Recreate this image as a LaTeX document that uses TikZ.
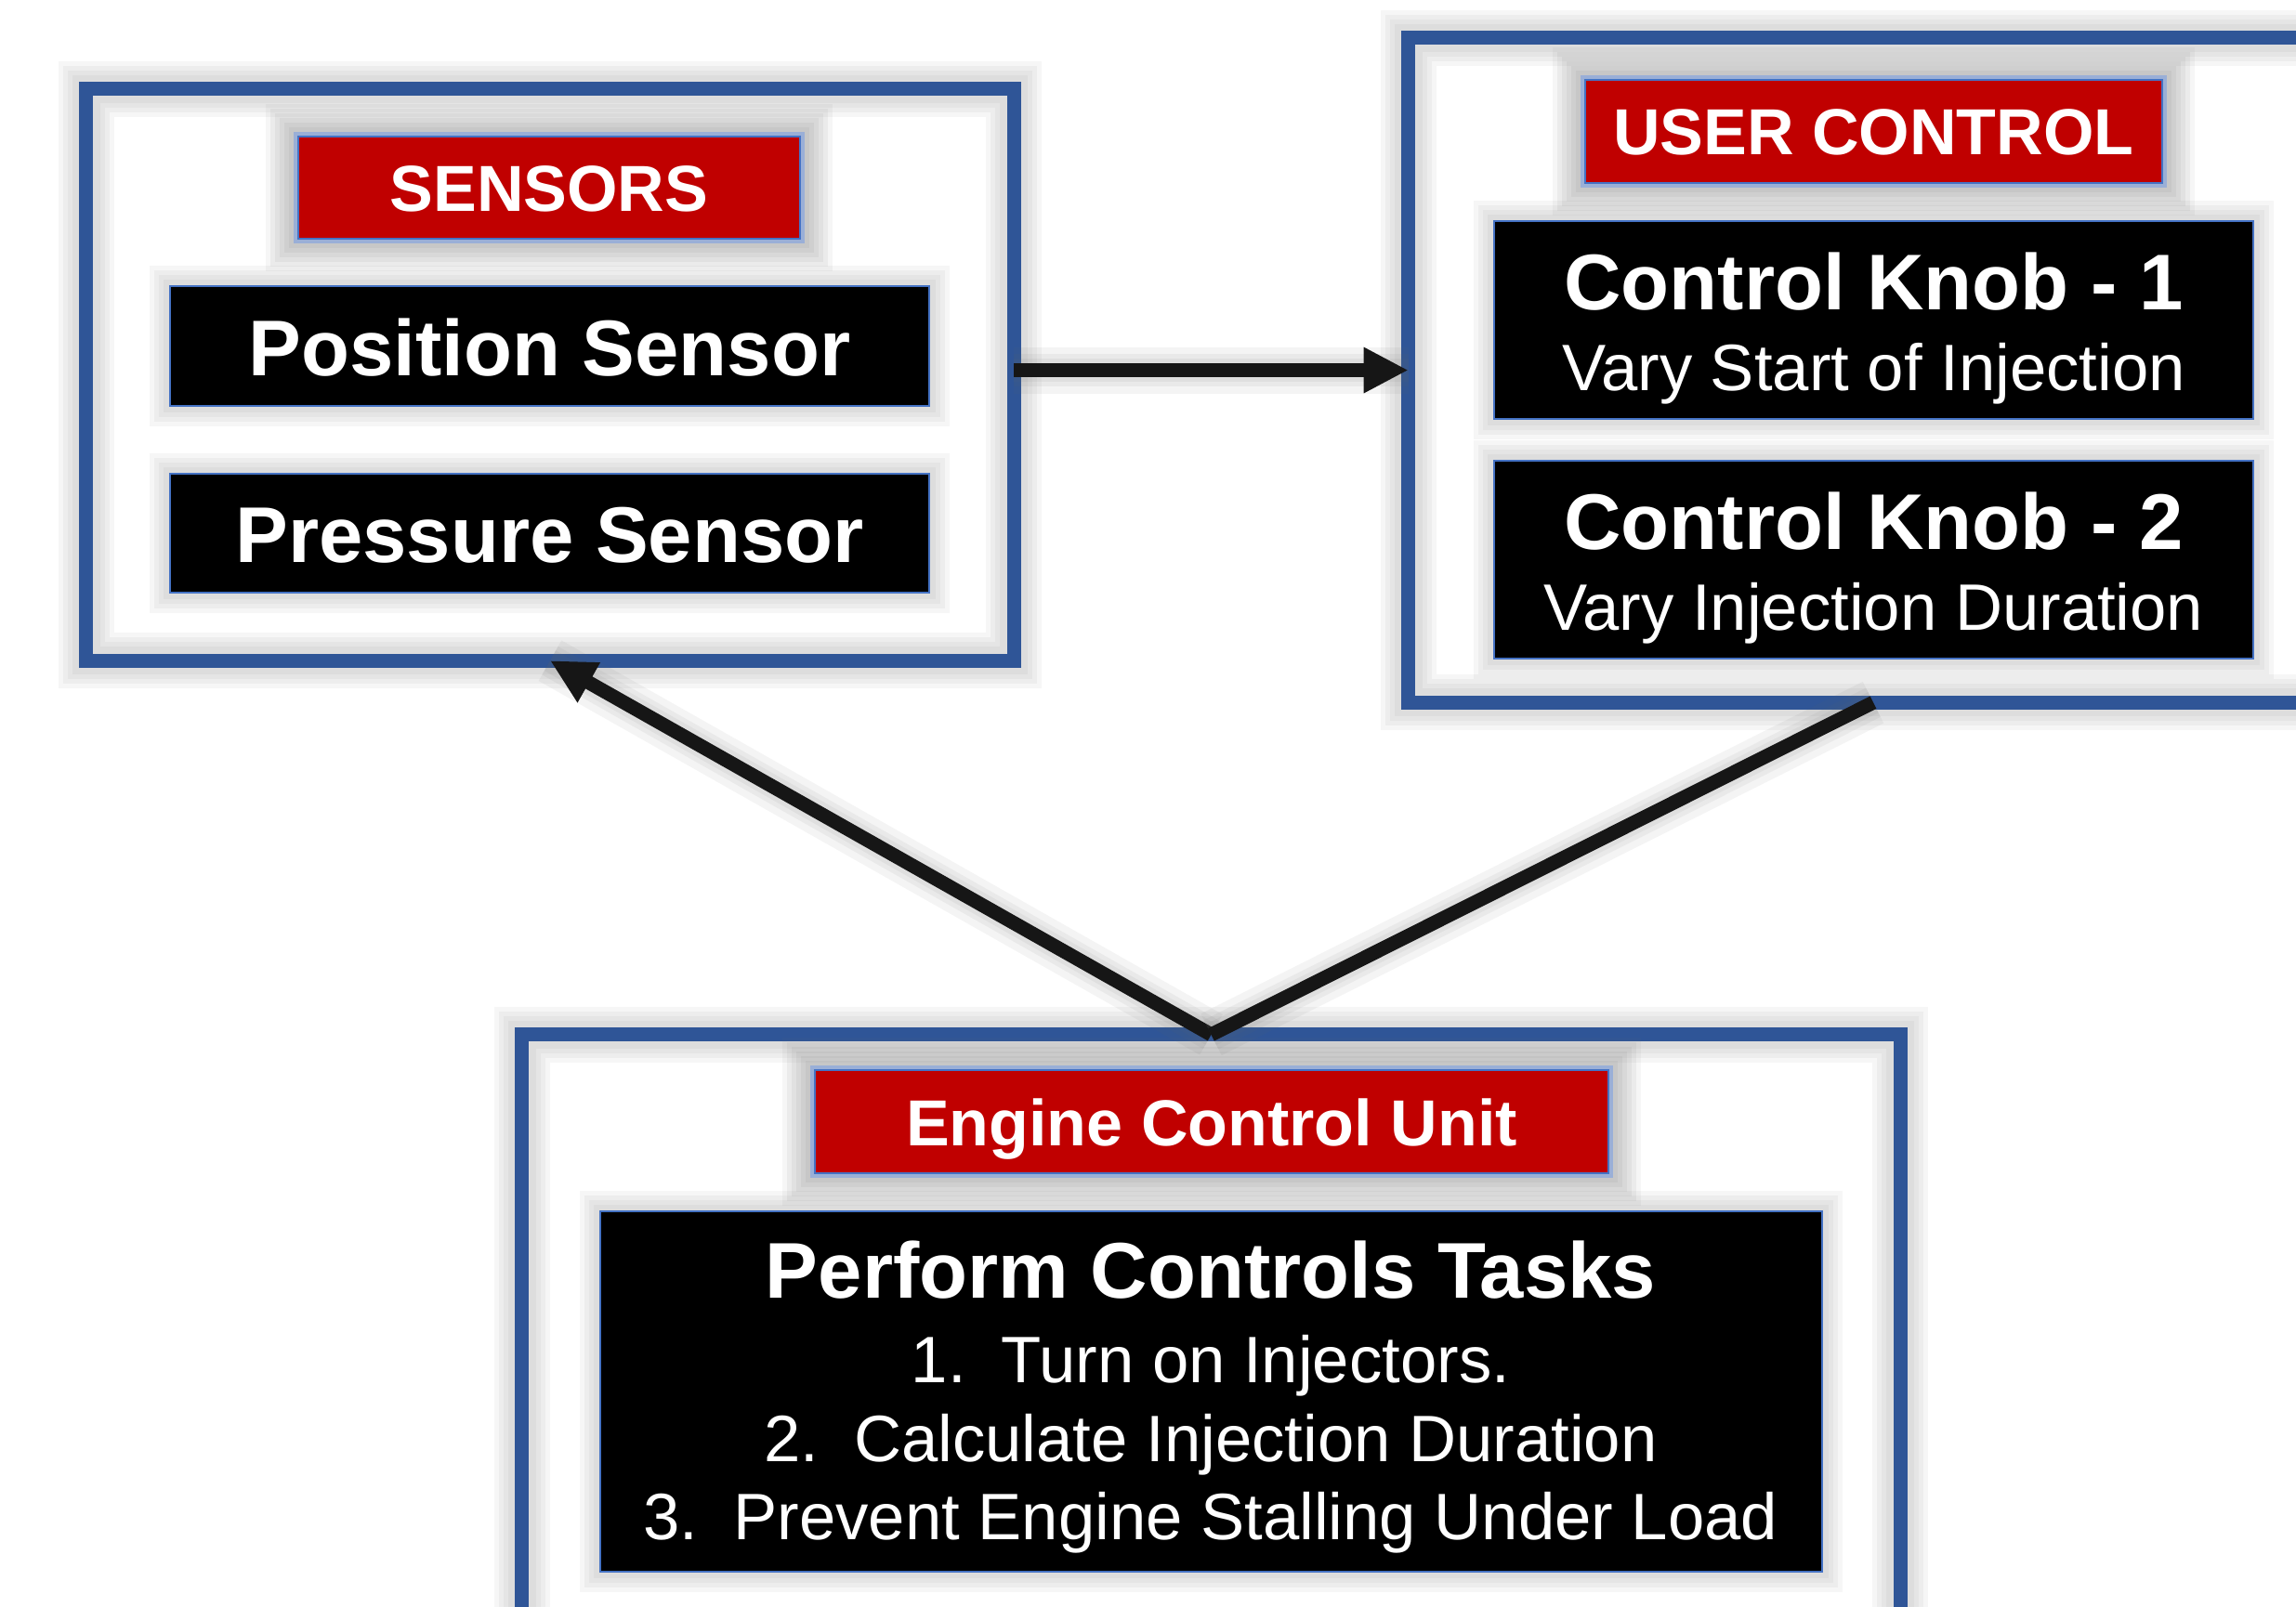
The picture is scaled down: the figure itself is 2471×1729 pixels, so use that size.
\documentclass[tikz,border=0pt]{standalone}
\usepackage{fontspec}
\setmainfont{Liberation Sans}
\usetikzlibrary{arrows.meta}
\definecolor{frameblue}{HTML}{2F5597}
\definecolor{hdrred}{HTML}{C00000}
\definecolor{edgeblue}{HTML}{4472C4}
\definecolor{glowblue}{HTML}{8FAADC}
\definecolor{arrowc}{HTML}{161616}
\tikzset{
  haloframe/.style={
    preaction={draw=black!60, draw opacity=0.06, line width=0.60cm},
    preaction={draw=black!60, draw opacity=0.06, line width=0.50cm},
    preaction={draw=black!60, draw opacity=0.06, line width=0.40cm},
    preaction={draw=black!60, draw opacity=0.06, line width=0.30cm}},
  halohdr/.style={
    preaction={draw=black!60, draw opacity=0.06, line width=0.70cm},
    preaction={draw=black!60, draw opacity=0.07, line width=0.60cm},
    preaction={draw=black!60, draw opacity=0.07, line width=0.50cm},
    preaction={draw=black!60, draw opacity=0.07, line width=0.40cm},
    preaction={draw=black!60, draw opacity=0.07, line width=0.30cm},
    preaction={draw=black!60, draw opacity=0.07, line width=0.20cm},
    preaction={draw=glowblue, draw opacity=0.8, line width=0.10cm}},
  haloblk/.style={
    preaction={draw=black!60, draw opacity=0.06, line width=0.44cm},
    preaction={draw=black!60, draw opacity=0.06, line width=0.34cm},
    preaction={draw=black!60, draw opacity=0.06, line width=0.24cm},
    preaction={draw=black!60, draw opacity=0.06, line width=0.14cm}},
  frame/.style={rectangle, draw=frameblue, line width=0.15cm, inner sep=0pt, outer sep=0pt, haloframe},
  hdrbox/.style={rectangle, fill=hdrred, draw=edgeblue, line width=0.02cm, inner sep=0pt, outer sep=0pt, halohdr},
  blkbox/.style={rectangle, fill=black, draw=edgeblue, line width=0.02cm, inner sep=0pt, outer sep=0pt, haloblk},
  bigtxt/.style={anchor=base, inner sep=0pt, text=white, font=\fontsize{24.19}{29}\selectfont\bfseries},
  hdrtxt/.style={anchor=base, inner sep=0pt, text=white, font=\fontsize{19.92}{24}\selectfont\bfseries},
  subtxt/.style={anchor=base, inner sep=0pt, text=white, font=\fontsize{20.1}{24}\selectfont},
  conn/.style={draw=arrowc, line width=0.15cm,
    preaction={draw=black!60, draw opacity=0.07, line width=0.50cm, -{}},
    preaction={draw=black!60, draw opacity=0.07, line width=0.35cm, -{}},
    preaction={draw=black!60, draw opacity=0.07, line width=0.25cm, -{}}},
  arr/.style={conn, -{Triangle[length=0.48cm,width=0.46cm]}},
}
\begin{document}
\begin{tikzpicture}[x=0.01cm,y=-0.01cm]
\clip (0,0) rectangle (2471,1729);
\fill[white] (0,0) rectangle (2471,1729);

% frames
\node[frame, minimum width=9.98cm, minimum height=6.15cm] (sens) at (592,403.5) {};
\node[frame, minimum width=10cm, minimum height=7.15cm] (uc) at (2016,398.5) {};
\node[frame, minimum width=14.83cm, minimum height=6.86cm] (ecu) at (1303.5,1457) {};

% sensors
\node[hdrbox, minimum width=5.40cm, minimum height=1.10cm] (sh) at (591,202) {};
\node[hdrtxt] (sht) at (591,227) {SENSORS};
\node[blkbox, minimum width=8.17cm, minimum height=1.29cm] (pos) at (591.5,372.5) {};
\node[bigtxt] (post) at (591.5,404) {Position Sensor};
\node[blkbox, minimum width=8.17cm, minimum height=1.28cm] (pres) at (591.5,574) {};
\node[bigtxt] (prest) at (591.5,605) {Pressure Sensor};

% user control
\node[hdrbox, minimum width=6.21cm, minimum height=1.11cm] (uh) at (2016.5,141.5) {};
\node[hdrtxt] (uht) at (2016.5,166) {USER CONTROL};
\node[blkbox, minimum width=8.17cm, minimum height=2.13cm] (k1) at (2016.5,344.5) {};
\node[bigtxt] (k1a) at (2016.5,333) {Control Knob - 1};
\node[subtxt] (k1b) at (2016.5,420) {Vary Start of Injection};
\node[blkbox, minimum width=8.17cm, minimum height=2.13cm] (k2) at (2016.5,602.5) {};
\node[bigtxt] (k2a) at (2016.5,591) {Control Knob - 2};
\node[subtxt] (k2b) at (2016.5,678) {Vary Injection Duration};

% ECU
\node[hdrbox, minimum width=8.54cm, minimum height=1.11cm] (eh) at (1304,1207.5) {};
\node[hdrtxt] (eht) at (1304,1233) {Engine Control Unit};
\node[blkbox, minimum width=13.15cm, minimum height=3.88cm] (task) at (1303.5,1497.8) {};
\node[bigtxt] (t0) at (1303,1397) {Perform Controls Tasks};
\node[subtxt] (t1) at (1303,1488) {1.\hspace{0.38cm}Turn on Injectors.};
\node[subtxt] (t2) at (1303,1573) {2.\hspace{0.38cm}Calculate Injection Duration};
\node[subtxt] (t3) at (1303,1657) {3.\hspace{0.38cm}Prevent Engine Stalling Under Load};

% connectors
\draw[arr] (sens.east |- uc.west) -- (uc.west);
\draw[arr] (ecu.north) -- (sens.south);
\draw[conn] (ecu.north) -- (uc.south);
\end{tikzpicture}
\end{document}
